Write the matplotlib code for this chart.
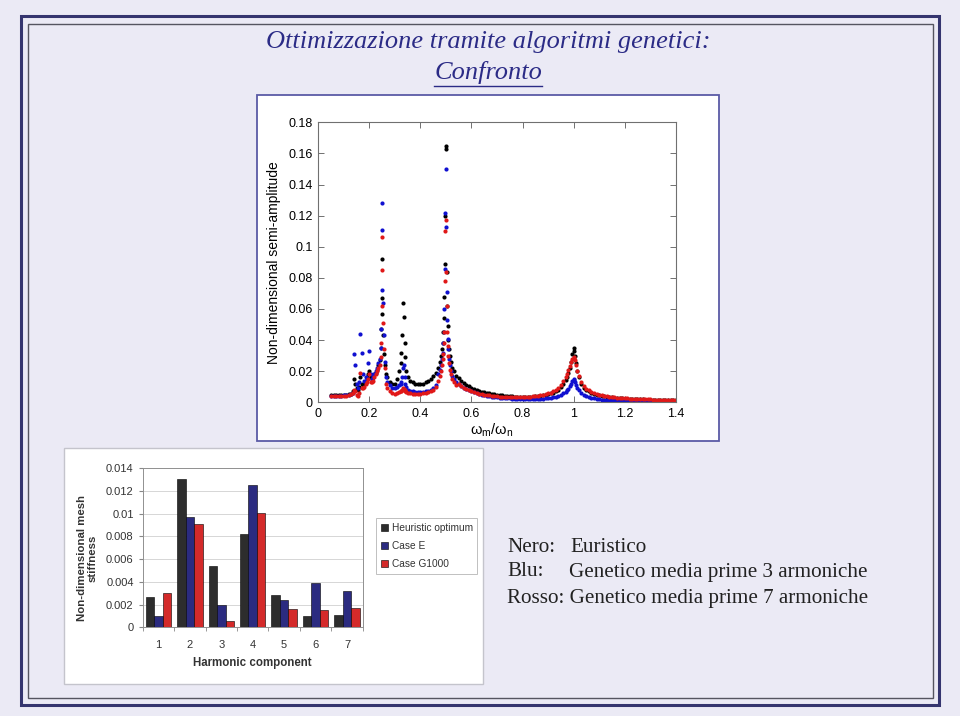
import matplotlib
matplotlib.use("Agg")
import matplotlib.pyplot as plt
from matplotlib.patches import Rectangle
from matplotlib.ticker import FormatStrFormatter, FixedLocator
import numpy as np

plt.rcParams["mathtext.default"] = "regular"

# frequency ratio grid (denser close to the resonances)
omega = [0.05, 0.06, 0.07, 0.08, 0.09, 0.10, 0.11, 0.12, 0.13,
         0.135, 0.14, 0.145, 0.15, 0.155, 0.16, 0.165, 0.17, 0.175, 0.18, 0.185,
         0.19, 0.195, 0.20, 0.205, 0.21, 0.215, 0.22, 0.225, 0.23, 0.235,
         0.24, 0.244, 0.247, 0.249, 0.25, 0.251, 0.253, 0.256, 0.26, 0.265,
         0.27, 0.28, 0.29, 0.30, 0.31, 0.318, 0.322, 0.325, 0.328, 0.331, 0.335,
         0.338, 0.341, 0.345, 0.35,
         0.36, 0.37, 0.38, 0.39, 0.40, 0.41, 0.42, 0.43, 0.44, 0.45, 0.46,
         0.47, 0.475, 0.48, 0.484, 0.487, 0.49, 0.492, 0.494, 0.496, 0.498, 0.50,
         0.502, 0.504, 0.506, 0.508, 0.51, 0.513, 0.516, 0.52, 0.525, 0.53, 0.54,
         0.55, 0.56, 0.57, 0.58, 0.59, 0.60, 0.61, 0.62, 0.63, 0.64, 0.65, 0.66,
         0.67, 0.68, 0.69, 0.70, 0.71, 0.72, 0.73, 0.74, 0.75, 0.76, 0.77, 0.78,
         0.79, 0.80, 0.81, 0.82, 0.83, 0.84, 0.85, 0.86, 0.87, 0.88, 0.89, 0.90,
         0.91, 0.92, 0.93, 0.94, 0.95,
         0.96, 0.97, 0.975, 0.98, 0.985, 0.99, 0.995, 1.0, 1.003, 1.006, 1.01,
         1.015, 1.02, 1.03, 1.04,
         1.05, 1.06, 1.07, 1.08, 1.09, 1.10, 1.11, 1.12, 1.13, 1.14, 1.15, 1.16,
         1.17, 1.18, 1.19, 1.20, 1.21, 1.22, 1.23, 1.24, 1.25, 1.26, 1.27, 1.28,
         1.29, 1.30, 1.31, 1.32, 1.33, 1.34, 1.35, 1.36, 1.37, 1.38, 1.39, 1.40]

# Nero: Euristico
amp_heuristic = [0.0045, 0.0045, 0.0046, 0.0047, 0.0048, 0.0049, 0.0050, 0.0052, 0.0056,
                 0.007, 0.015, 0.012, 0.009, 0.008, 0.010, 0.016, 0.012, 0.011, 0.012, 0.014,
                 0.016, 0.018, 0.020, 0.016, 0.015, 0.016, 0.018, 0.019, 0.021, 0.024,
                 0.027, 0.035, 0.047, 0.057, 0.092, 0.067, 0.043, 0.031, 0.024, 0.018,
                 0.016, 0.013, 0.012, 0.012, 0.015, 0.020, 0.025, 0.032, 0.043, 0.064, 0.055,
                 0.038, 0.029, 0.020, 0.016,
                 0.014, 0.013, 0.012, 0.012, 0.012, 0.012, 0.013, 0.014, 0.015, 0.017, 0.019,
                 0.022, 0.026, 0.030, 0.034, 0.038, 0.045, 0.054, 0.068, 0.089, 0.120, 0.165,
                 0.163, 0.084, 0.062, 0.049, 0.040, 0.034, 0.030, 0.026, 0.022, 0.020, 0.017,
                 0.0155, 0.014, 0.0125, 0.0112, 0.0102, 0.0093, 0.0086, 0.0080, 0.0074, 0.0069, 0.0065, 0.0061,
                 0.0057, 0.0054, 0.0051, 0.0049, 0.0046, 0.0044, 0.0042, 0.0041, 0.0039, 0.0038, 0.0037, 0.0036,
                 0.0035, 0.0035, 0.0035, 0.0035, 0.0036, 0.0037, 0.0038, 0.0040, 0.0042, 0.0045, 0.0048, 0.0052,
                 0.0057, 0.0063, 0.0071, 0.0082, 0.0097,
                 0.0118, 0.0145, 0.0165, 0.019, 0.022, 0.026, 0.031, 0.035, 0.033, 0.030, 0.025,
                 0.020, 0.016, 0.012, 0.0095,
                 0.0082, 0.0071, 0.0062, 0.0055, 0.0050, 0.0045, 0.0041, 0.0038, 0.0035, 0.0033, 0.0031, 0.0029,
                 0.0027, 0.0026, 0.0025, 0.0024, 0.0023, 0.0022, 0.0021, 0.0021, 0.0020, 0.0019, 0.0019, 0.0018,
                 0.0018, 0.0017, 0.0017, 0.0016, 0.0016, 0.0016, 0.0015, 0.0015, 0.0015, 0.0014, 0.0014, 0.0014]

# Blu: Genetico media prime 3 armoniche
amp_case_e = [0.0040, 0.0040, 0.0041, 0.0042, 0.0043, 0.0044, 0.0045, 0.0048, 0.0055,
              0.006, 0.031, 0.024, 0.012, 0.009, 0.013, 0.044, 0.032, 0.018, 0.014, 0.016,
              0.015, 0.025, 0.033, 0.018, 0.015, 0.016, 0.018, 0.020, 0.022, 0.025,
              0.028, 0.035, 0.047, 0.072, 0.128, 0.111, 0.064, 0.043, 0.026, 0.016,
              0.013, 0.011, 0.009, 0.009, 0.010, 0.011, 0.012, 0.013, 0.016, 0.022, 0.024,
              0.016, 0.012, 0.010, 0.008,
              0.0075, 0.0070, 0.0068, 0.0066, 0.0066, 0.0067, 0.0070, 0.0075, 0.0080, 0.0090, 0.011,
              0.018, 0.021, 0.024, 0.028, 0.032, 0.038, 0.045, 0.060, 0.086, 0.122, 0.150,
              0.113, 0.071, 0.053, 0.041, 0.034, 0.028, 0.024, 0.020, 0.017, 0.015, 0.013,
              0.0120, 0.0106, 0.0095, 0.0085, 0.0077, 0.0070, 0.0064, 0.0058, 0.0053, 0.0049, 0.0045, 0.0042,
              0.0039, 0.0036, 0.0034, 0.0032, 0.0030, 0.0028, 0.0027, 0.0026, 0.0025, 0.0024, 0.0023, 0.0022,
              0.0022, 0.0021, 0.0021, 0.0021, 0.0021, 0.0021, 0.0022, 0.0022, 0.0023, 0.0024, 0.0025, 0.0027,
              0.0029, 0.0032, 0.0036, 0.0041, 0.0048,
              0.0057, 0.0069, 0.0077, 0.0088, 0.0102, 0.0118, 0.0136, 0.0150, 0.0142, 0.0128, 0.0110,
              0.0090, 0.0076, 0.0060, 0.0048,
              0.0039, 0.0033, 0.0028, 0.0025, 0.0022, 0.0020, 0.0018, 0.0017, 0.0016, 0.0015, 0.0014, 0.0013,
              0.0013, 0.0012, 0.0012, 0.0011, 0.0011, 0.0011, 0.0010, 0.0010, 0.0010, 0.0010, 0.0010, 0.0010,
              0.0009, 0.0009, 0.0009, 0.0009, 0.0009, 0.0009, 0.0009, 0.0008, 0.0008, 0.0008, 0.0008, 0.0008]

# Rosso: Genetico media prime 7 armoniche
amp_case_g = [0.0038, 0.0038, 0.0039, 0.0040, 0.0041, 0.0042, 0.0043, 0.0046, 0.0052,
              0.006, 0.008, 0.007, 0.005, 0.004, 0.006, 0.019, 0.009, 0.009, 0.010, 0.012,
              0.013, 0.015, 0.018, 0.013, 0.013, 0.014, 0.016, 0.018, 0.020, 0.022,
              0.024, 0.029, 0.038, 0.062, 0.106, 0.085, 0.051, 0.034, 0.022, 0.012,
              0.009, 0.007, 0.006, 0.0055, 0.006, 0.0065, 0.007, 0.0075, 0.008, 0.009, 0.0085,
              0.008, 0.007, 0.0065, 0.006,
              0.0058, 0.0056, 0.0055, 0.0055, 0.0056, 0.0058, 0.0060, 0.0065, 0.0070, 0.0080, 0.010,
              0.014, 0.017, 0.020, 0.024, 0.028, 0.031, 0.038, 0.045, 0.078, 0.110, 0.117,
              0.084, 0.062, 0.045, 0.036, 0.030, 0.025, 0.021, 0.018, 0.015, 0.013, 0.011,
              0.0115, 0.0102, 0.0092, 0.0083, 0.0076, 0.0070, 0.0065, 0.0060, 0.0056, 0.0052, 0.0049, 0.0046,
              0.0044, 0.0042, 0.0040, 0.0039, 0.0037, 0.0036, 0.0035, 0.0034, 0.0034, 0.0033, 0.0033, 0.0033,
              0.0033, 0.0034, 0.0034, 0.0035, 0.0036, 0.0038, 0.0040, 0.0042, 0.0045, 0.0048, 0.0052, 0.0057,
              0.0063, 0.0071, 0.0081, 0.0094, 0.0112,
              0.0135, 0.0165, 0.0185, 0.0205, 0.0232, 0.026, 0.028, 0.029, 0.0285, 0.027, 0.024,
              0.020, 0.017, 0.0128, 0.0102,
              0.0088, 0.0076, 0.0067, 0.0060, 0.0054, 0.0049, 0.0045, 0.0041, 0.0038, 0.0036, 0.0033, 0.0031,
              0.0030, 0.0028, 0.0027, 0.0026, 0.0025, 0.0024, 0.0023, 0.0022, 0.0021, 0.0021, 0.0020, 0.0020,
              0.0019, 0.0019, 0.0018, 0.0018, 0.0017, 0.0017, 0.0017, 0.0016, 0.0016, 0.0016, 0.0015, 0.0015]

# bar chart: harmonic components of mesh stiffness
harmonics = ["1", "2", "3", "4", "5", "6", "7"]
stiff_heuristic = [0.00264, 0.0131, 0.00543, 0.00820, 0.00282, 0.00103, 0.00109]
stiff_case_e = [0.00103, 0.00970, 0.00197, 0.01255, 0.00244, 0.00390, 0.00320]
stiff_case_g = [0.00302, 0.00910, 0.00059, 0.01010, 0.00164, 0.00156, 0.00173]
bar_labels = ["Heuristic optimum", "Case E", "Case G1000"]

W, H = 960, 716
fig = plt.figure(figsize=(W / 100, H / 100), dpi=100, facecolor="#ebeaf5")

# background layer in pixel coordinates (y downwards)
bg = fig.add_axes([0, 0, 1, 1], zorder=0)
bg.set_xlim(0, W)
bg.set_ylim(H, 0)
bg.axis("off")

bg.add_patch(Rectangle((21, 16), 918, 689, fill=False, ec="#35356f", lw=2.2))
bg.add_patch(Rectangle((28, 24), 905, 674, fill=False, ec="#555560", lw=1.0))
bg.add_patch(Rectangle((257, 95), 462, 346, fc="white", ec="#5a5aa6", lw=1.3))
bg.add_patch(Rectangle((64, 448), 419, 236, fc="white", ec="#c4c4cc", lw=1.0))

title_kw = dict(family="Liberation Serif", style="italic", color="#2b2b86",
                ha="center", va="center")
bg.text(488, 42, "Ottimizzazione tramite algoritmi genetici:", fontsize=19, **title_kw)
conf = bg.text(488, 72, "Confronto", fontsize=19, **title_kw)

fig.canvas.draw()
bb = conf.get_window_extent()
bg.plot([bb.x0, bb.x1], [86, 86], color="#2b2b86", lw=1.0)

txt_kw = dict(family="Liberation Serif", fontsize=15.2, color="#222222", va="center")
bg.text(507, 547, "Nero:", **txt_kw)
bg.text(570, 547, "Euristico", **txt_kw)
bg.text(507, 572, "Blu:", **txt_kw)
bg.text(569, 572, "Genetico media prime 3 armoniche", **txt_kw)
bg.text(507, 598, "Rosso: Genetico media prime 7 armoniche", **txt_kw)

# ---- top plot: response amplitude
ax = fig.add_axes([318.3 / W, 1 - 402.3 / H, 357.4 / W, 280 / H], zorder=2)
ax.plot(omega, amp_heuristic, ls="none", marker="o", ms=3.0, mew=0, color="black")
ax.plot(omega, amp_case_e, ls="none", marker="o", ms=3.0, mew=0, color="#1010d0")
ax.plot(omega, amp_case_g, ls="none", marker="o", ms=3.0, mew=0, color="#e01818")
ax.set_xlim(0, 1.4)
ax.set_ylim(0, 0.18)
ax.set_xticks(np.arange(0, 1.41, 0.2))
ax.set_yticks(np.arange(0, 0.181, 0.02))
ax.xaxis.set_major_formatter(FormatStrFormatter("%g"))
ax.yaxis.set_major_formatter(FormatStrFormatter("%g"))
ax.tick_params(direction="in", top=True, right=True, length=4, width=0.7,
               color="#707070", labelsize=9, pad=4)
for lab in ax.get_xticklabels() + ax.get_yticklabels():
    lab.set_family("Liberation Sans")
for s in ax.spines.values():
    s.set_color("#707070")
    s.set_linewidth(0.8)
ax.set_ylabel("Non-dimensional semi-amplitude", family="Liberation Sans",
              fontsize=10, labelpad=5)
bg.text(492, 430, r"$\omega_m/\omega_n$", fontsize=10.5, ha="center", va="center",
        family="Liberation Sans")

# ---- bottom-left bar chart
bx = fig.add_axes([142.7 / W, 1 - 627.3 / H, 220 / W, 159 / H], zorder=2)
pos = np.arange(len(harmonics))
bw = 0.27
bx.bar(pos - bw, stiff_heuristic, bw, color="#2d2d2d", ec="black", lw=0.4, label=bar_labels[0])
bx.bar(pos, stiff_case_e, bw, color="#2b2b80", ec="black", lw=0.4, label=bar_labels[1])
bx.bar(pos + bw, stiff_case_g, bw, color="#d42a2a", ec="black", lw=0.4, label=bar_labels[2])
bx.set_xlim(-0.5, 6.5)
bx.set_ylim(0, 0.014)
bx.set_yticks(np.arange(0, 0.0141, 0.002))
bx.yaxis.set_major_formatter(FormatStrFormatter("%g"))
bx.set_xticks(pos)
bx.set_xticklabels(harmonics)
bx.xaxis.set_minor_locator(FixedLocator(np.arange(-0.5, 6.6, 1)))
bx.tick_params(axis="x", which="major", length=0, labelsize=8, labelcolor="#333333", pad=9)
bx.tick_params(axis="x", which="minor", length=3, color="#888888", direction="out")
bx.tick_params(axis="y", length=3, color="#888888", labelsize=8, labelcolor="#333333")
bx.grid(axis="y", color="#d0d0d0", lw=0.6)
bx.set_axisbelow(True)
for s in bx.spines.values():
    s.set_color("#909090")
    s.set_linewidth(0.7)
for lab in bx.get_xticklabels() + bx.get_yticklabels():
    lab.set_family("Liberation Sans")
bg.text(87, 558, "Non-dimensional mesh\nstiffness", rotation=90, ha="center", va="center",
        family="Liberation Sans", fontweight="bold", fontsize=8.2, color="#333333",
        linespacing=1.05)
bg.text(252, 663, "Harmonic component", ha="center", va="center",
        family="Liberation Sans", fontweight="bold", fontsize=8.3, color="#333333")
leg = bx.legend(loc="center left", bbox_to_anchor=(371 / W, 1 - 546 / H),
                bbox_transform=fig.transFigure, fontsize=7.3, frameon=True,
                fancybox=False, edgecolor="#b0b0b0", handlelength=0.7,
                handleheight=0.7, handletextpad=0.4, labelspacing=0.8, borderpad=0.45)
leg.get_frame().set_linewidth(0.7)
for t in leg.get_texts():
    t.set_family("Liberation Sans")
    t.set_color("#333333")

fig.savefig("out.png", dpi=100, facecolor=fig.get_facecolor())
